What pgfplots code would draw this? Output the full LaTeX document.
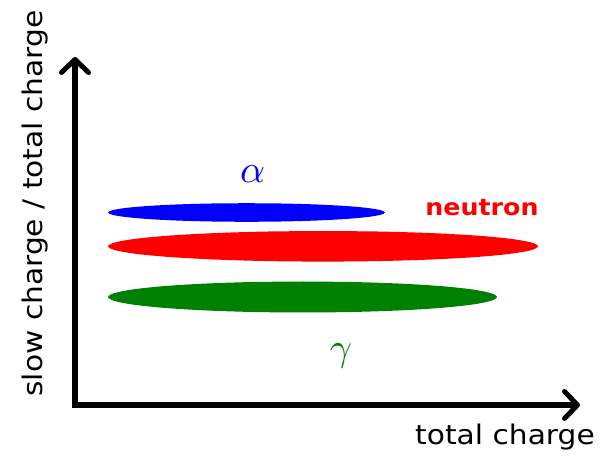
\documentclass[border=0pt]{standalone}
\usepackage{fontspec}
\setmainfont{DejaVu Sans}[FakeStretch=1.1]
\usepackage{graphicx}
\usepackage{pgfplots}
\pgfplotsset{compat=1.18}
\usetikzlibrary{arrows.meta}
\definecolor{cblue}{RGB}{0,0,255}
\definecolor{cred}{RGB}{255,0,0}
\definecolor{cgreen}{RGB}{0,128,0}
\begin{document}
\begin{tikzpicture}
\begin{axis}[
  scale only axis,
  width=505bp, height=348bp,
  xmin=75, xmax=580, ymin=51, ymax=399,
  axis lines=left,
  axis line style={line width=5bp, line cap=rect, -{Straight Barb[length=13bp,width=27bp,round]}},
  xtick=\empty, ytick=\empty,
  clip=false,
]
% alpha band
\addplot[fill=cblue, draw=none, smooth] coordinates {
(246.5,252.8) (210.6,252.48) (177.25,251.55) (148.6,250.08) (126.6,248.15) (112.7,245.91)
(108,243.5) (112.7,241.09) (126.6,238.85) (148.6,236.92) (177.25,235.45) (210.6,234.52)
(246.5,234.2) (282.4,234.52) (315.75,235.45) (344.4,236.92) (366.4,238.85) (380.3,241.09)
(385,243.5) (380.3,245.91) (366.4,248.15) (344.4,250.08) (315.75,251.55) (282.4,252.48)
(246.5,252.8)};
% neutron band
\addplot[fill=cred, draw=none, smooth] coordinates {
(323,225.0) (267.4,224.48) (215.5,222.95) (171.0,220.52) (136.8,217.35) (115.3,213.66)
(108,209.7) (115.3,205.74) (136.8,202.05) (171.0,198.88) (215.5,196.45) (267.4,194.92)
(323,194.4) (378.6,194.92) (430.5,196.45) (475.0,198.88) (509.2,202.05) (530.7,205.74)
(538,209.7) (530.7,213.66) (509.2,217.35) (475.0,220.52) (430.5,222.95) (378.6,224.48)
(323,225.0)};
% gamma band
\addplot[fill=cgreen, draw=none, smooth] coordinates {
(302.5,174.5) (252.1,173.97) (205.25,172.42) (165.0,169.96) (134.1,166.75) (114.6,163.01)
(108,159) (114.6,154.99) (134.1,151.25) (165.0,148.04) (205.25,145.58) (252.1,144.03)
(302.5,143.5) (352.9,144.03) (399.75,145.58) (440.0,148.04) (470.9,151.25) (490.4,154.99)
(497,159) (490.4,163.01) (470.9,166.75) (440.0,169.96) (399.75,172.42) (352.9,173.97)
(302.5,174.5)};
\node[text=cblue, inner sep=0pt] at (axis cs:252.5,282) {\scalebox{3.9}{$\alpha$}};
\node[text=cgreen, inner sep=0pt] at (axis cs:341,100) {\scalebox{3.9}{$\gamma$}};
\node[text=cred, anchor=base, inner sep=0pt] at (axis cs:482,240) {\fontsize{23bp}{23bp}\selectfont\bfseries neutron};
\node[anchor=base, inner sep=0pt] at (axis cs:505,12) {\fontsize{27bp}{27bp}\selectfont total charge};
\node[anchor=base, rotate=90, inner sep=0pt] at (axis cs:43,252.5) {\fontsize{27bp}{27bp}\selectfont slow charge / total charge};
\coordinate (ll) at (axis cs:0,0);
\coordinate (ur) at (axis cs:604,456);
\end{axis}
\pgfresetboundingbox
\useasboundingbox (ll) rectangle (ur);
\end{tikzpicture}
\end{document}
